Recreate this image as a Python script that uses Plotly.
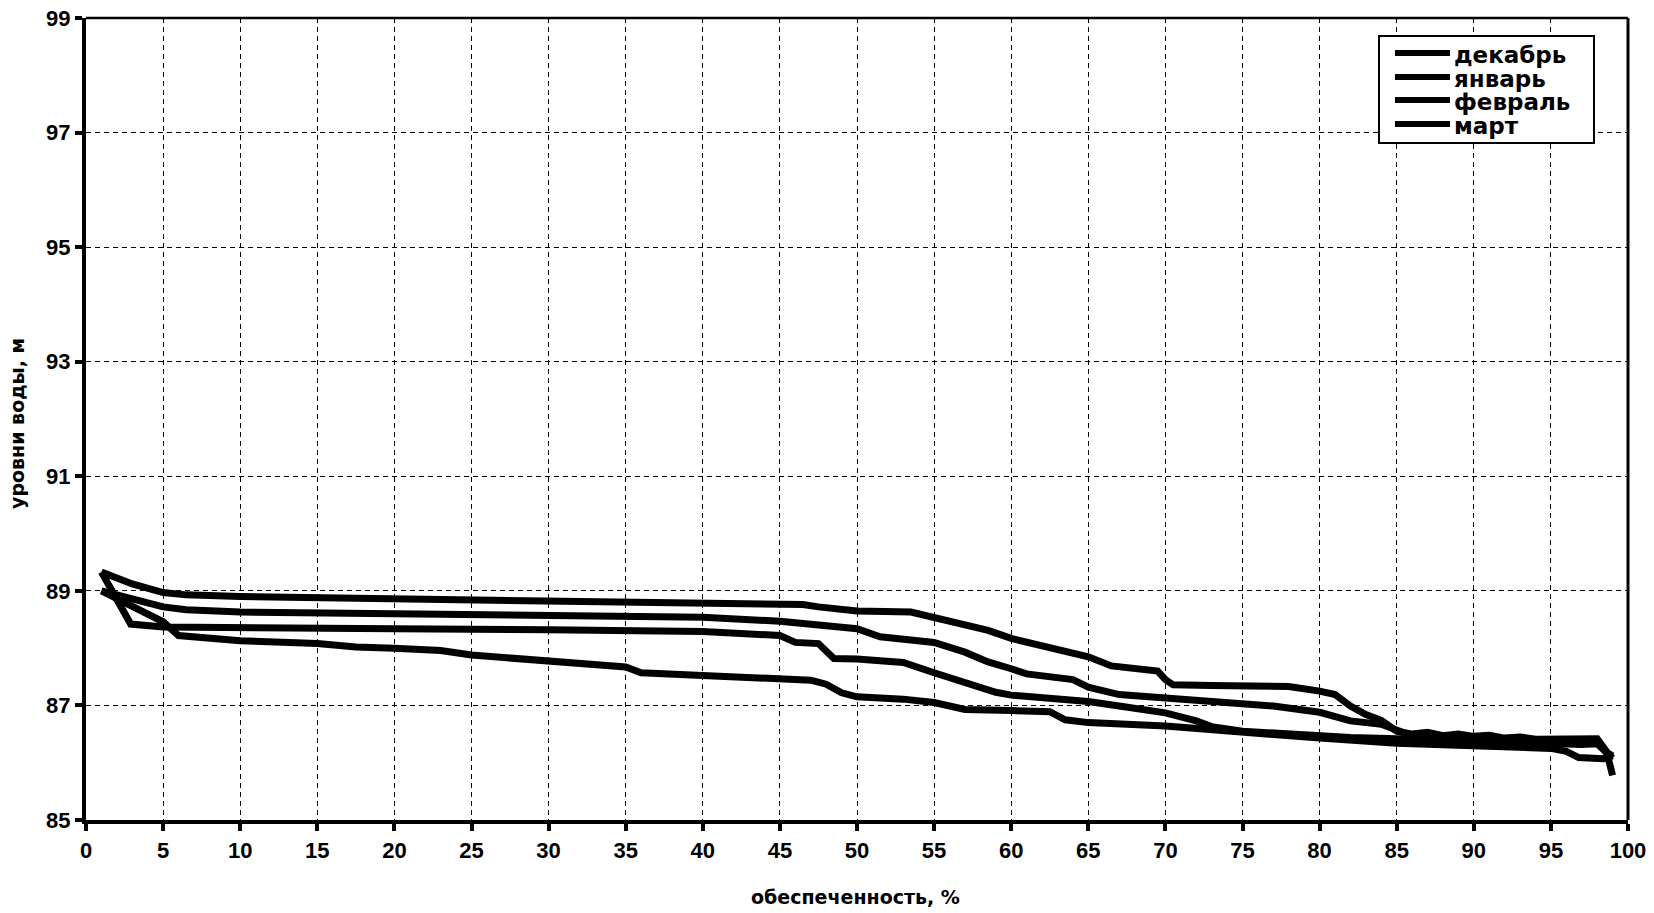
import plotly.graph_objects as go

# ---- data ----
series_names = ["декабрь", "январь", "февраль", "март"]

dec_x = [1, 2, 3, 5, 6.5, 10, 15, 20, 25, 30, 35, 40, 45, 46.5, 47.5, 49, 50, 53.5, 55, 57, 58.5,
         60, 62.5, 65, 66.5, 68, 69.5, 70, 70.5, 73, 75, 78, 80, 81, 82, 83, 84, 84.5, 85, 86, 87,
         88, 89, 90, 91, 92, 93, 94, 95, 96, 97, 98, 98.6, 99]
dec_y = [89.33, 89.22, 89.12, 88.97, 88.93, 88.9, 88.88, 88.87, 88.86, 88.85, 88.82, 88.8, 88.78,
         88.76, 88.72, 88.66, 88.65, 88.63, 88.54, 88.42, 88.31, 88.17, 88.02, 87.85, 87.69, 87.65,
         87.6, 87.45, 87.36, 87.35, 87.35, 87.33, 87.25, 87.19, 86.99, 86.84, 86.74, 86.64, 86.55,
         86.5, 86.53, 86.47, 86.5, 86.46, 86.48, 86.43, 86.45, 86.41, 86.42, 86.4, 86.42, 86.42,
         86.2, 85.78]

jan_x = [1, 2.2, 5, 6.5, 10, 20, 30, 40, 45, 48, 50, 51.5, 55, 57, 58.5, 60, 61, 64, 65, 67, 70,
         73, 75, 77, 80, 82, 84, 85, 86, 87, 88, 89, 90, 91, 92, 93, 94, 95, 96, 97, 98, 98.6, 99]
jan_y = [89.0, 88.92, 88.72, 88.67, 88.63, 88.6, 88.57, 88.54, 88.47, 88.4, 88.34, 88.2, 88.1,
         87.93, 87.76, 87.64, 87.55, 87.45, 87.32, 87.19, 87.13, 87.1, 87.05, 86.99, 86.88, 86.73,
         86.67, 86.56, 86.47, 86.44, 86.45, 86.42, 86.43, 86.4, 86.41, 86.38, 86.38, 86.36, 86.37,
         86.4, 86.38, 86.18, 86.12]

feb_x = [1, 2.9, 5, 10, 20, 30, 40, 45, 46, 47.5, 48.5, 50, 53, 55, 57, 59, 60, 63, 65, 67, 70,
         72, 73, 75, 78, 80, 82, 85, 87, 89, 91, 93, 95, 96, 97, 98, 98.6, 99]
feb_y = [89.33, 88.42, 88.37, 88.37, 88.34, 88.32, 88.29, 88.22, 88.1, 88.08, 87.82, 87.81, 87.75,
         87.57, 87.4, 87.23, 87.18, 87.12, 87.07, 86.99, 86.87, 86.73, 86.63, 86.55, 86.5, 86.47,
         86.44, 86.42, 86.4, 86.38, 86.36, 86.34, 86.32, 86.3, 86.32, 86.33, 86.2, 86.08]

mar_x = [1, 2.8, 5, 6, 8, 10, 15, 17.5, 20, 23, 25, 30, 32, 35, 36, 40, 45, 47, 48, 49, 50, 53,
         55, 57, 60, 62.5, 63.5, 65, 70, 74, 77, 80, 85, 90, 95, 96, 96.8, 98.4, 99]
mar_y = [89.0, 88.75, 88.46, 88.22, 88.16, 88.13, 88.08, 88.02, 88.0, 87.96, 87.88, 87.79, 87.73,
         87.67, 87.57, 87.53, 87.46, 87.44, 87.37, 87.22, 87.15, 87.11, 87.05, 86.93, 86.91, 86.89,
         86.75, 86.7, 86.64, 86.55, 86.47, 86.43, 86.34, 86.3, 86.25, 86.2, 86.09, 86.07, 86.12]

x_title = "обеспеченность, %"
y_title = "уровни воды, м"

# ---- layout helpers (screen pixel -> paper); body margin is removed below ----
W, H = 1654, 913
ML, MR, MT, MB = 86, 26, 18, 93
PW, PH = W - ML - MR, H - MT - MB


def px(x):
    return (x - ML) / PW


def py(y):
    return 1 - (y - MT) / PH


fig = go.Figure()
all_series = [(dec_x, dec_y), (jan_x, jan_y), (feb_x, feb_y), (mar_x, mar_y)]
for name, (xs, ys) in zip(series_names, all_series):
    fig.add_trace(go.Scatter(x=xs, y=ys, mode="lines", name=name,
                             line=dict(color="black", width=7), showlegend=False))

tick_font = dict(family="Arial", size=22, color="black", weight="bold")
text_font = dict(family="DejaVu Sans", size=19, color="black", weight="bold")

fig.update_layout(
    width=W, height=H,
    margin=dict(l=ML, r=MR, t=MT, b=MB, autoexpand=False),
    paper_bgcolor="white", plot_bgcolor="white",
    xaxis=dict(range=[0, 100], tick0=0, dtick=5, showgrid=True, gridcolor="black",
               gridwidth=1, griddash="5px,4px", showline=True, linecolor="black", linewidth=4,
               ticks="outside", ticklen=7, tickwidth=4, tickcolor="black",
               tickfont=tick_font, ticklabelstandoff=1, ticklabeloverflow="allow",
               zeroline=False, fixedrange=True),
    yaxis=dict(range=[85, 99], tick0=85, dtick=2, showgrid=True, gridcolor="black",
               gridwidth=1, griddash="5px,4px", showline=True, linecolor="black", linewidth=4,
               ticks="outside", ticklen=7, tickwidth=4, tickcolor="black",
               tickfont=tick_font, ticklabelstandoff=0, ticklabeloverflow="allow",
               zeroline=False, fixedrange=True),
)

shapes = [
    # top and right frame
    dict(type="line", xref="paper", yref="paper", x0=0, x1=1, y0=1, y1=1,
         line=dict(color="black", width=2.5)),
    dict(type="line", xref="paper", yref="paper", x0=1, x1=1, y0=0, y1=1,
         line=dict(color="black", width=3)),
    # legend box
    dict(type="rect", xref="paper", yref="paper", x0=px(1379), x1=px(1594), y0=py(143), y1=py(36),
         line=dict(color="black", width=2), fillcolor="white", layer="above"),
]
annotations = [
    dict(text=x_title, xref="paper", yref="paper", x=px(855), y=py(897), showarrow=False,
         xanchor="center", yanchor="middle", font=text_font),
    dict(text=y_title, xref="paper", yref="paper", x=px(17), y=py(424), showarrow=False,
         xanchor="center", yanchor="middle", textangle=-90, font=text_font),
]
row_y = [53, 77, 100, 124]
for name, ry in zip(series_names, row_y):
    shapes.append(dict(type="line", xref="paper", yref="paper", x0=px(1395), x1=px(1450),
                       y0=py(ry), y1=py(ry), line=dict(color="black", width=6), layer="above"))
    annotations.append(dict(text=name, xref="paper", yref="paper", x=px(1452), y=py(ry + 2),
                            showarrow=False, xanchor="left", yanchor="middle",
                            font=dict(family="DejaVu Sans", size=23, color="black", weight="bold")))

fig.update_layout(shapes=shapes, annotations=annotations)
fig.write_html("out.html", config={"displayModeBar": False},
               post_script="document.body.style.margin='0';document.body.style.overflow='hidden';")
